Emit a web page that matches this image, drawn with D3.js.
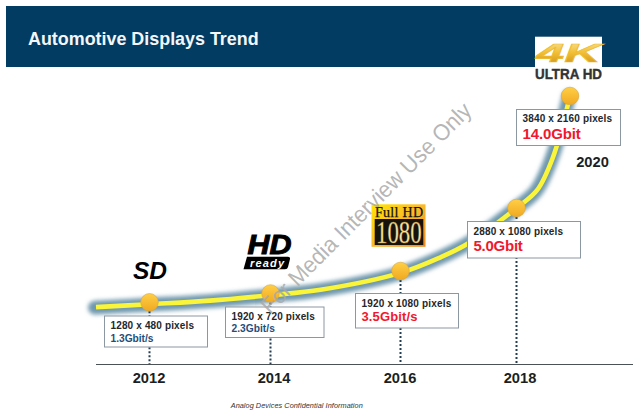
<!DOCTYPE html>
<html><head><meta charset="utf-8">
<script src="https://cdnjs.cloudflare.com/ajax/libs/d3/7.8.5/d3.min.js"></script>
<style>html,body{margin:0;padding:0;background:#fff}svg{display:block}text{font-family:"Liberation Sans",Arial,sans-serif}</style>
</head><body><svg id="c" width="640" height="418"></svg>
<script>
const years = [2012, 2014, 2016, 2018, 2020];
const resolutions = ["1280 x 480 pixels", "1920 x 720 pixels", "1920 x 1080 pixels", "2880 x 1080 pixels", "3840 x 2160 pixels"];
const rates = [1.3, 2.3, 3.5, 5.0, 14.0];
const rateLabels = ["1.3Gbit/s", "2.3Gbit/s", "3.5Gbit/s", "5.0Gbit", "14.0Gbit"];
const yearLabels = ["2012", "2014", "2016", "2018", "2020"];
const curveYears = [2011.12, 2012, 2013, 2014, 2014.77, 2016, 2016.68, 2017.17, 2018, 2018.77, 2019.36, 2020];
const curveRates = [0.61, 1.03, 1.49, 2.11, 2.50, 3.40, 3.82, 4.16, 5.0, 6.43, 9.06, 14.0];

const x = d3.scaleLinear().domain([2011.12, 2012, 2014, 2016, 2018, 2020]).range([96, 149.5, 270.5, 400.5, 516.5, 570]);
const y = d3.scaleLinear().domain([0.3, 1.3, 2.3, 3.5, 5.0, 14.0]).range([309.3, 302.3, 293.5, 271, 208, 96]);

const svg = d3.select("#c");
const defs = svg.append("defs");
const f = defs.append("filter").attr("id","glow").attr("filterUnits","userSpaceOnUse").attr("x",0).attr("y",0).attr("width",640).attr("height",418);
f.append("feGaussianBlur").attr("stdDeviation",2.3);
const grad = (id, stops, x2=0, y2=1) => {
  const g = defs.append("linearGradient").attr("id",id).attr("x1",0).attr("y1",0).attr("x2",x2).attr("y2",y2);
  stops.forEach(([o,c]) => g.append("stop").attr("offset",o).attr("stop-color",c));
};
grad("gold", [[0,"#f8e7a4"],[0.5,"#f2bf35"],[1,"#c98d16"]]);
grad("ball", [[0,"#ffcf45"],[1,"#f0a922"]]);
grad("fullhd", [[0,"#ffe600"],[0.5,"#fbb82a"],[1,"#ef8a1e"]], 1, 1);

// header
svg.append("rect").attr("x",6).attr("y",6).attr("width",633).attr("height",61).attr("fill","#023c62");
svg.append("text").attr("x",28).attr("y",45).attr("fill","#f4f6f8").attr("font-weight","bold").attr("font-size",17.9).text("Automotive Displays Trend");

// curve
const line = d3.line().x((d,i)=>x(curveYears[i])).y(d=>y(d)).curve(d3.curveCatmullRom.alpha(0.5));
svg.append("path").attr("d",line(curveRates)).attr("fill","none").attr("stroke","#6f98ad").attr("stroke-width",14).attr("stroke-linecap","round").attr("filter","url(#glow)").attr("transform","translate(-1,0.5)");
svg.append("path").attr("d",line(curveRates)).attr("fill","none").attr("stroke","#fbf53a").attr("stroke-width",4.6);

// axis
svg.append("line").attr("x1",96).attr("x2",633).attr("y1",364.5).attr("y2",364.5).attr("stroke","#4a5258").attr("stroke-width",1);

// drop lines
years.slice(0,4).forEach(yr=>{
  svg.append("line").attr("x1",x(yr)).attr("x2",x(yr)).attr("y1",y(rates[years.indexOf(yr)])+9).attr("y2",364)
    .attr("stroke","#243f54").attr("stroke-width",2).attr("stroke-dasharray","2 2");
});

// markers
svg.selectAll("circle.m").data(rates).join("circle").attr("class","m")
  .attr("cx",(d,i)=>x(years[i])).attr("cy",d=>y(d)).attr("r",8.8)
  .attr("fill","url(#ball)").attr("stroke","#d9a53a").attr("stroke-width",.6);

// boxes: left, top, right, bottom, resolution baseline, rate baseline
const boxL = [104.5, 225.5, 355.5, 467.5, 516.5];
const boxT = [316, 307, 293.5, 221.5, 109.5];
const boxR = [207.5, 324, 458.5, 580.5, 620.5];
const boxB = [347, 337.5, 328, 258, 145.5];
const resBase = [329.3, 320, 306.7, 235, 122.3];
const rateBase = [342, 332.3, 321.3, 251, 139];
const resW = [83.5, 83.3, 89.7, 89.6, 89.6];
const rateW = [43, 43.3, 56, 49.3, 58.3];
const rateSize = [10.2, 10.2, 13, 15, 15];
const rateColor = ["#1f4e79","#1f4e79","#f0182d","#f0182d","#f0182d"];
boxL.forEach((l,i)=>{
  svg.append("rect").attr("x",l).attr("y",boxT[i]).attr("width",boxR[i]-l).attr("height",boxB[i]-boxT[i]).attr("fill","#fff").attr("stroke","#8b97a1").attr("stroke-width",1);
  svg.append("text").attr("x",l+6).attr("y",resBase[i]).attr("font-size",10).attr("font-weight","bold").attr("fill","#23272b").attr("textLength",resW[i]).text(resolutions[i]);
  svg.append("text").attr("x",l+6).attr("y",rateBase[i]).attr("font-size",rateSize[i]).attr("font-weight","bold").attr("fill",rateColor[i]).attr("textLength",rateW[i]).text(rateLabels[i]);
});

// year labels
const labelX = [149, 274, 400, 520, 592.5];
const labelY = [382.7, 382.7, 382.7, 382.7, 166.7];
yearLabels.forEach((t,i)=>svg.append("text").attr("x",labelX[i]).attr("y",labelY[i]).attr("text-anchor","middle").attr("font-size",14.7).attr("font-weight","bold").attr("fill","#1c1f22").text(t));

// footer
svg.append("text").attr("x",296.7).attr("y",408).attr("text-anchor","middle").attr("font-size",7.3).attr("font-style","italic").attr("fill","#333").attr("textLength",132).text("Analog Devices Confidential Information");

// SD
svg.append("text").attr("x",150).attr("y",279.3).attr("text-anchor","middle").attr("font-size",24.5).attr("font-weight","bold").attr("font-style","italic").attr("fill","#000").text("SD");
// HD ready
svg.append("text").attr("x",269.5).attr("y",254).attr("text-anchor","middle").attr("font-size",27.5).attr("font-weight","bold").attr("font-style","italic").attr("fill","#000").attr("stroke","#000").attr("stroke-width",1).attr("textLength",44).attr("lengthAdjust","spacingAndGlyphs").text("HD");
svg.append("path").attr("d","M247 256.7 H288 Q290.5 256.7 290 259 L288 267 Q287.5 269.3 285 269.3 H243.5 Z").attr("fill","#000");
svg.append("text").attr("x",267).attr("y",267).attr("text-anchor","middle").attr("font-size",11).attr("font-weight","bold").attr("font-style","italic").attr("fill","#fff").attr("textLength",34).text("ready");
// Full HD 1080
svg.append("rect").attr("x",371.5).attr("y",204.3).attr("width",54).attr("height",42.5).attr("fill","url(#fullhd)");
svg.append("rect").attr("x",374.7).attr("y",219).attr("width",48.6).attr("height",26).attr("fill","#17130a");
svg.append("text").attr("x",375).attr("y",217).style("font-family","'Liberation Serif'").attr("font-size",14).attr("fill","#111").attr("stroke","#111").attr("stroke-width",.25).attr("textLength",48).text("Full HD");
svg.append("text").attr("x",376).attr("y",243.3).style("font-family","'Liberation Serif'").attr("font-size",32).attr("fill","#f5e7b2").attr("stroke","#b07d20").attr("stroke-width",.4).attr("textLength",45.7).attr("lengthAdjust","spacingAndGlyphs").text("1080");
// 4K ULTRA HD
svg.append("rect").attr("x",535).attr("y",36.7).attr("width",67).attr("height",31).attr("fill","#fff");
svg.append("text").attr("x",536).attr("y",61.7).attr("font-size",25).attr("font-weight","bold").attr("font-style","italic").attr("fill","url(#gold)").attr("stroke","#eebb33").attr("stroke-width",.6).attr("textLength",65).attr("lengthAdjust","spacingAndGlyphs").text("4K");
svg.append("text").attr("x",535).attr("y",79).attr("font-size",15).attr("font-weight","bold").attr("fill","#333").attr("stroke","#333").attr("stroke-width",.4).attr("textLength",67).attr("lengthAdjust","spacingAndGlyphs").text("ULTRA HD");

// watermark
svg.append("text").attr("transform","translate(270,315) rotate(-45)").attr("font-size",23).attr("fill","#a9a9a9").attr("fill-opacity",.85).attr("textLength",287).attr("lengthAdjust","spacingAndGlyphs").text("For Media Interview Use Only");
</script></body></html>
